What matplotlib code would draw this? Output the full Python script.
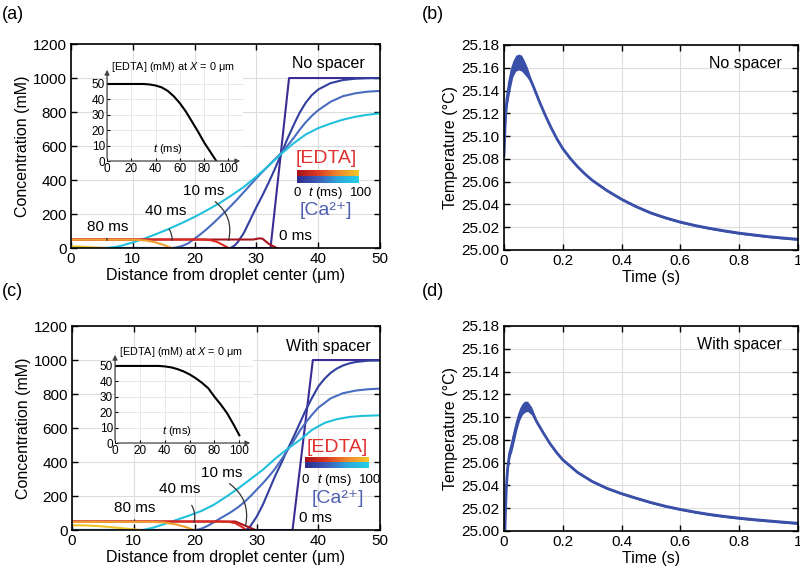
import numpy as np
import matplotlib
matplotlib.use("Agg")
import matplotlib.pyplot as plt
from matplotlib.colors import LinearSegmentedColormap

plt.rcParams['font.family'] = ['Liberation Sans', 'DejaVu Sans']
plt.rcParams['mathtext.fontset'] = 'custom'
plt.rcParams['mathtext.rm'] = 'Liberation Sans'
plt.rcParams['mathtext.it'] = 'Liberation Sans:italic'

# ---------------- data: panel (a), no spacer ----------------
a_ca0_x = [0, 32.3, 35.3, 50]
a_ca0_y = [0, 0, 1000, 1000]
a_ca10_x = [0, 25.8, 26.5, 27, 28, 29, 30, 31, 32, 33, 34, 35, 36, 37, 38, 39, 40, 42, 44, 46, 48, 50]
a_ca10_y = [0, 0, 15, 35, 90, 165, 240, 310, 385, 465, 550, 640, 720, 795, 855, 900, 932, 970, 988, 996, 999, 1000]
a_ca40_x = [0, 16.5, 17, 18, 19, 20, 21, 22, 23, 24, 25, 26, 27, 28, 29, 30, 31, 32, 33, 34,
            35, 36, 37, 38, 39, 40, 42, 44, 46, 48, 50]
a_ca40_y = [0, 0, 3, 12, 28, 55, 82, 112, 145, 180, 215, 252, 290, 330, 370, 410, 448, 485, 522, 558,
            600, 645, 695, 740, 778, 810, 860, 893, 910, 920, 924]
a_ca80_x = [0, 5.8, 7, 8, 10, 12, 14, 16, 18, 20, 22, 24, 26, 28, 30, 32, 34, 36, 38, 40, 42, 44, 46, 48, 50]
a_ca80_y = [0, 0, 5, 12, 33, 57, 85, 115, 148, 183, 222, 263, 310, 360, 420, 485, 553, 615, 668, 705, 732, 755, 772, 784, 792]

a_ed0_x = [0, 29.5, 30.5, 31.0, 32.0, 33.3]
a_ed0_y = [50, 50, 57, 55, 25, 0]
a_ed10_x = [0, 21, 22.5, 23.5, 24.5, 25.5]
a_ed10_y = [50, 50, 47, 38, 20, 0]
a_ed40_x = [0, 10, 12, 13.5, 15, 16.3]
a_ed40_y = [49, 49, 45, 35, 18, 0]
a_ed80_x = [0, 1, 2, 3, 4, 5.5]
a_ed80_y = [10, 9, 7, 5, 2.5, 0]

a_in_t = [0, 30, 35, 40, 45, 50, 55, 60, 65, 70, 75, 80, 85, 90]
a_in_v = [50, 50, 49.7, 49, 47.8, 45.5, 42, 37.5, 32, 25.5, 19, 12, 6, 0]

# ---------------- data: panel (c), with spacer ----------------
c_ca0_x = [0, 35.8, 39.1, 50]
c_ca0_y = [0, 0, 1000, 1000]
c_ca10_x = [0, 28.3, 29, 30, 31, 32, 33, 34, 35, 36, 37, 38, 39, 40, 41, 42, 43, 44, 45, 46, 48, 50]
c_ca10_y = [0, 0, 25, 80, 150, 235, 320, 395, 475, 550, 630, 710, 780, 845, 890, 925, 950, 968, 980, 988, 996, 998]
c_ca40_x = [0, 20.2, 21, 22, 23, 24, 25, 26, 27, 28, 29, 30, 31, 32, 33, 34, 35, 36, 37, 38, 39, 40, 42, 44, 46, 48, 50]
c_ca40_y = [0, 0, 8, 24, 45, 67, 88, 110, 135, 165, 200, 238, 276, 317, 362, 415, 470, 525, 585, 635, 680, 720, 775, 805, 820, 828, 832]
c_ca80_x = [0, 11.5, 13, 15, 17, 19, 21, 23, 25, 27, 29, 31, 33, 35, 37, 39, 41, 43, 45, 47, 50]
c_ca80_y = [0, 0, 12, 35, 60, 85, 112, 148, 195, 245, 300, 355, 420, 478, 530, 590, 630, 652, 665, 671, 675]

c_ed0_x = [0, 26.5, 29.8]
c_ed0_y = [50, 50, 0]
c_ed10_x = [0, 24, 25.5, 26.5, 27.5, 28.3]
c_ed10_y = [50, 50, 48, 40, 20, 0]
c_ed40_x = [0, 13, 15, 17, 18.5, 19.8]
c_ed40_y = [48, 48, 44, 32, 17, 0]
c_ed80_x = [0, 2, 4, 6, 8, 10, 11]
c_ed80_y = [28, 27, 24, 18, 11, 4, 0]

c_in_t = [0, 35, 40, 45, 50, 55, 60, 65, 70, 75, 80, 85, 90, 95, 100]
c_in_v = [50, 50, 49.7, 49.1, 48, 46.5, 44.5, 42, 39, 35.5, 30, 25, 19.5, 12.5, 5]

# ---------------- data: panels (b) and (d), temperature (centre + band width) ----------------
b_t = [0, 0.005, 0.01, 0.02, 0.03, 0.04, 0.05, 0.06, 0.07, 0.08, 0.09, 0.1, 0.12, 0.14, 0.16, 0.18,
       0.2, 0.225, 0.25, 0.275, 0.3, 0.35, 0.4, 0.45, 0.5, 0.55, 0.6, 0.65, 0.7, 0.75, 0.8, 0.85, 0.9, 0.95, 1.0]
b_mid = [25.083, 25.1175, 25.1325, 25.149, 25.159, 25.164, 25.165, 25.164, 25.160, 25.1555, 25.1495, 25.1435,
         25.1305, 25.1185, 25.1075, 25.0975, 25.0890, 25.0805, 25.0732, 25.0668, 25.0612, 25.0522, 25.0445,
         25.0380, 25.0325, 25.0282, 25.0245, 25.0215, 25.0190, 25.0168, 25.0148, 25.0132, 25.0117, 25.0105, 25.0094]
b_band = [0.005, 0.015, 0.015, 0.018, 0.014, 0.014, 0.014, 0.014, 0.012, 0.009, 0.005, 0.003,
          0.002, 0.002, 0.002, 0.002, 0.002, 0.002, 0.002, 0.002, 0.002, 0.002, 0.002,
          0.002, 0.002, 0.002, 0.002, 0.002, 0.002, 0.002, 0.002, 0.002, 0.002, 0.002, 0.002]

d_t = [0.003, 0.005, 0.008, 0.012, 0.019, 0.027, 0.036, 0.045, 0.053, 0.062, 0.07, 0.08, 0.094, 0.11, 0.134,
       0.157, 0.18, 0.2, 0.25, 0.3, 0.35, 0.4, 0.45, 0.5, 0.55, 0.6, 0.65, 0.7, 0.75, 0.8, 0.85, 0.9, 0.95, 1.0]
d_mid = [25.000, 25.0175, 25.038, 25.054, 25.068, 25.076, 25.086, 25.0955, 25.1025, 25.107, 25.109, 25.1095,
         25.1055, 25.0965, 25.0860, 25.0765, 25.0685, 25.0625, 25.0515, 25.0435, 25.0375, 25.0328, 25.0288,
         25.0250, 25.0217, 25.0190, 25.0166, 25.0145, 25.0128, 25.0113, 25.0100, 25.0089, 25.0078, 25.0068]
d_band = [0.0, 0.005, 0.008, 0.008, 0.008, 0.012, 0.012, 0.011, 0.011, 0.010, 0.010, 0.009,
          0.007, 0.003, 0.002, 0.002, 0.002, 0.002, 0.002, 0.002, 0.002, 0.002, 0.002,
          0.002, 0.002, 0.002, 0.002, 0.002, 0.002, 0.002, 0.002, 0.002, 0.002, 0.002]

ca_colors = ['#3a2c94', '#333f9e', '#4a6cc0', '#22c0dc']   # 0, 10, 40, 80 ms
ed_colors = ['#a8121a', '#dc2a22', '#f0a030', '#ecc428']
ed_cmap = LinearSegmentedColormap.from_list('ed', ['#a8121a', '#dc3a22', '#ee8a2c', '#f2c82c'])
ca_cmap = LinearSegmentedColormap.from_list('ca', ['#2e2c8c', '#3c5cb8', '#2ea8dc', '#22d0ea'])

fig = plt.figure(figsize=(8, 5.72), dpi=100)


def style_axes(ax):
    ax.tick_params(direction='in', top=True, right=True, length=4, width=1, labelsize=11, pad=3)
    for s in ax.spines.values():
        s.set_linewidth(1.2)
    ax.grid(True, color='#dddddd', lw=0.8)
    ax.set_axisbelow(True)


def conc_panel(rect, ca, ed, inset_rect, inset_t, inset_v, inset_xmax, inset_ymax, title,
               labels, bar_x, bar_y, ed_lbl, ca_lbl, tick_y):
    ax = fig.add_axes(rect)
    style_axes(ax)
    for (x, y), c in zip(ca, ca_colors):
        ax.plot(x, y, color=c, lw=1.5)
    for (x, y), c in zip(ed, ed_colors):
        ax.plot(x, y, color=c, lw=1.5)
    ax.set_xlim(0, 50)
    ax.set_ylim(0, 1200)
    ax.set_xticks(range(0, 51, 10))
    ax.set_yticks(range(0, 1201, 200))
    ax.set_xlabel('Distance from droplet center (μm)', fontsize=11.5, labelpad=1)
    ax.set_ylabel('Concentration (mM)', fontsize=11.5, labelpad=2)
    ax.text(title[0], title[1], title[2], fontsize=11.5, ha='right', va='center')
    for txt, (tx, ty), (x0, y0), (x1, y1), rad in labels:
        ax.text(tx, ty, txt, fontsize=11, ha='center', va='center')
        ax.annotate('', xy=(x1, y1), xytext=(x0, y0),
                    arrowprops=dict(arrowstyle='-', color='#333333', lw=0.9,
                                    connectionstyle='arc3,rad=%s' % rad))
    grad = np.linspace(0, 1, 256).reshape(1, -1)
    ymid = (bar_y[0] + bar_y[1]) / 2
    ax.imshow(grad, cmap=ed_cmap, extent=[bar_x[0], bar_x[1], ymid, bar_y[1]], aspect='auto', zorder=3)
    ax.imshow(grad, cmap=ca_cmap, extent=[bar_x[0], bar_x[1], bar_y[0], ymid], aspect='auto', zorder=3)
    ax.set_xlim(0, 50)
    ax.set_ylim(0, 1200)
    ax.text(ed_lbl[0], ed_lbl[1], '[EDTA]', color='#e03030', fontsize=14, ha='center', va='center')
    ax.text(ca_lbl[0], ca_lbl[1], '[Ca²⁺]', color='#5060b0', fontsize=14, ha='center', va='center')
    ax.text(bar_x[0], tick_y, '0', fontsize=9.5, ha='center', va='center')
    ax.text((bar_x[0] + bar_x[1]) / 2 - 0.4, tick_y, '$t$ (ms)', fontsize=9.5, ha='center', va='center')
    ax.text(bar_x[1] + 0.3, tick_y, '100', fontsize=9.5, ha='center', va='center')

    ins = fig.add_axes(inset_rect)
    ins.set_facecolor('white')
    ins.plot(inset_t, inset_v, color='black', lw=1.5)
    ins.set_xlim(0, inset_xmax)
    ins.set_ylim(0, inset_ymax)
    ins.set_xticks(range(0, 101, 20))
    ins.set_yticks(range(0, 51, 10))
    ins.grid(True, color='#e4e4e4', lw=0.6)
    ins.set_axisbelow(True)
    for s in ins.spines.values():
        s.set_visible(False)
    ins.tick_params(direction='in', length=2, labelsize=8.5, pad=1.5)
    ins.annotate('', xy=(0, 1), xytext=(0, 0), xycoords='axes fraction',
                 arrowprops=dict(arrowstyle='-|>', color='#444444', lw=0.9, mutation_scale=7))
    ins.annotate('', xy=(1, 0), xytext=(0, 0), xycoords='axes fraction',
                 arrowprops=dict(arrowstyle='-|>', color='#444444', lw=0.9, mutation_scale=7))
    ins.text(0.03, 1.0, '[EDTA] (mM) at $X$ = 0 μm', transform=ins.transAxes, fontsize=7.8,
             ha='left', va='center')
    ins.text(50, 8, '$t$ (ms)', fontsize=8, ha='center', va='center')
    return ax


def temp_panel(rect, t, mid, band, title):
    ax = fig.add_axes(rect)
    style_axes(ax)
    mid = np.array(mid)
    half = np.array(band) / 2
    ax.fill_between(t, mid - half, mid + half, color='#3a4fa8', lw=0)
    ax.plot(t, mid, color='#3a4fa8', lw=2.0)
    ax.set_xlim(0, 1)
    ax.set_ylim(25.0, 25.18)
    ax.set_xticks([0, 0.2, 0.4, 0.6, 0.8, 1])
    ax.set_xticklabels(['0', '0.2', '0.4', '0.6', '0.8', '1'])
    ax.set_yticks(np.arange(25.0, 25.181, 0.02))
    ax.set_yticklabels(['%.2f' % v for v in np.arange(25.0, 25.181, 0.02)])
    ax.set_xlabel('Time (s)', fontsize=11.5, labelpad=1)
    ax.set_ylabel('Temperature (°C)', fontsize=11.5, labelpad=3)
    ax.text(0.946, 0.91, title, transform=ax.transAxes, fontsize=11.5, ha='right', va='center')
    return ax


conc_panel([0.0888, 0.5664, 0.386, 0.3566],
           [(a_ca0_x, a_ca0_y), (a_ca10_x, a_ca10_y), (a_ca40_x, a_ca40_y), (a_ca80_x, a_ca80_y)],
           [(a_ed0_x, a_ed0_y), (a_ed10_x, a_ed10_y), (a_ed40_x, a_ed40_y), (a_ed80_x, a_ed80_y)],
           [0.1338, 0.7185, 0.170, 0.1643], a_in_t, a_in_v, 112, 61,
           (47.6, 1088, 'No spacer'),
           [('10 ms', (21.5, 335), (23, 282), (25.4, 29), '-0.35'),
            ('40 ms', (15.4, 218), (15.6, 124), (16.3, 29), '-0.25'),
            ('80 ms', (6.0, 124), (5.5, 70), (5.8, 29), '-0.3'),
            ('0 ms', (36.3, 70), (36.3, 70), (36.3, 70), '0')],
           (36.6, 46.6), (382, 453), (41.4, 524), (41.3, 222), 322)

conc_panel([0.09, 0.0734, 0.385, 0.3566],
           [(c_ca0_x, c_ca0_y), (c_ca10_x, c_ca10_y), (c_ca40_x, c_ca40_y), (c_ca80_x, c_ca80_y)],
           [(c_ed0_x, c_ed0_y), (c_ed10_x, c_ed10_y), (c_ed40_x, c_ed40_y), (c_ed80_x, c_ed80_y)],
           [0.1438, 0.2255, 0.1725, 0.159], c_in_t, c_in_v, 111, 59,
           (48.4, 1082, 'With spacer'),
           [('10 ms', (24.3, 335), (25.2, 282), (28.1, 12), '-0.35'),
            ('40 ms', (17.5, 241), (19.2, 159), (19.7, 29), '-0.25'),
            ('80 ms', (10.2, 129), (10.0, 76), (10.0, 41), '-0.3'),
            ('0 ms', (39.6, 71), (39.6, 71), (39.6, 71), '0')],
           (37.8, 48.1), (365, 429), (43.0, 488), (43.2, 186), 292)

temp_panel([0.63, 0.563, 0.3675, 0.3584], b_t, b_mid, b_band, 'No spacer')
temp_panel([0.63, 0.0717, 0.3675, 0.3584], d_t, d_mid, d_band, 'With spacer')

for lbl, x, y in [('(a)', 0.002, 0.975), ('(b)', 0.527, 0.975), ('(c)', 0.002, 0.49), ('(d)', 0.527, 0.49)]:
    fig.text(x, y, lbl, fontsize=13, ha='left', va='center')

fig.savefig('out.png', dpi=100)
